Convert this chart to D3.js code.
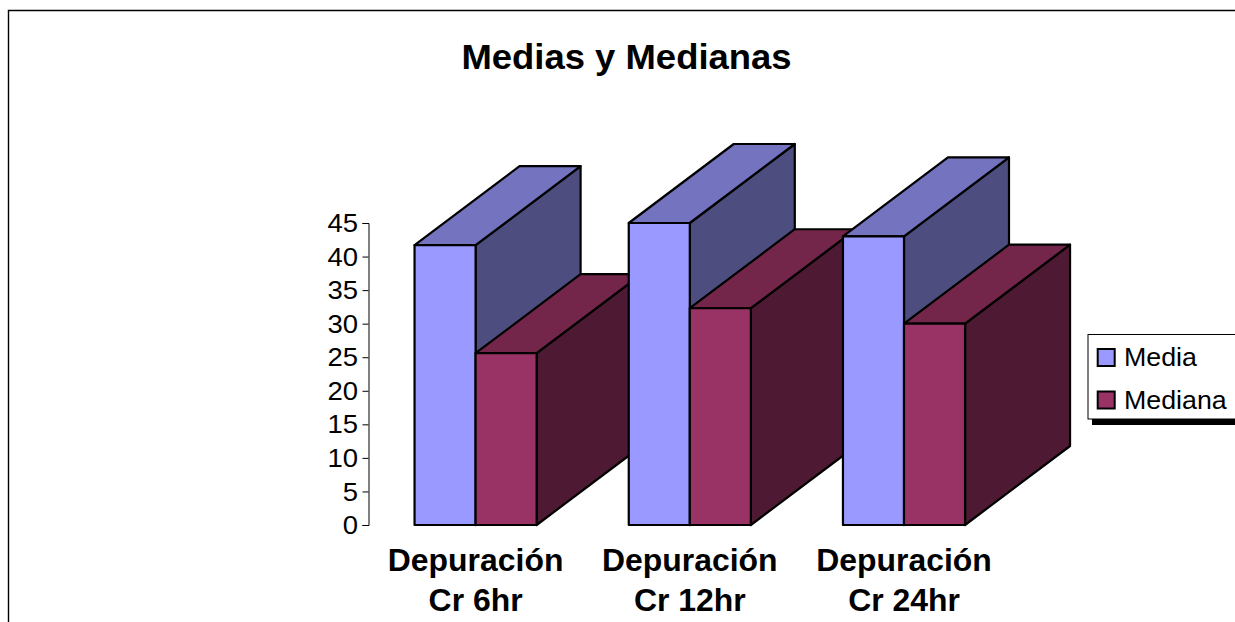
<!DOCTYPE html>
<html>
<head>
<meta charset="utf-8">
<script src="https://cdn.jsdelivr.net/npm/d3@7"></script>
<style>
  html, body { margin: 0; padding: 0; background: #fff; overflow: hidden; }
  svg { display: block; }
  text { font-family: "Liberation Sans", Arial, sans-serif; fill: #000; }
</style>
</head>
<body>
<svg id="chart" width="1235" height="622"></svg>
<script>
// Chart values
const categories = [["Depuración", "Cr 6hr"], ["Depuración", "Cr 12hr"], ["Depuración", "Cr 24hr"]];
const seriesNames = ["Media", "Mediana"];
const mediaValues = [41.7, 45, 43];
const medianaValues = [25.6, 32.3, 30];
const tickValues = [0, 5, 10, 15, 20, 25, 30, 35, 40, 45];
const seriesFront = ["#9999ff", "#993366"];
const seriesTop = ["#7373bf", "#732649"];
const seriesSide = ["#4d4d80", "#4d1933"];
const titleText = "Medias y Medianas";

const svg = d3.select("#chart");
const depthX = 105, depthY = 79;
const textWiden = 1.03;   // all lettering is set slightly wide
const widen = (px, py) => `translate(${px},${py}) scale(${textWiden},1)`;

const y = d3.scaleLinear().domain([0, 45]).range([525, 223]);
const x = d3.scaleBand()
  .domain(d3.range(categories.length))
  .range([368.5, 1011.1])
  .paddingInner(0.43)
  .paddingOuter(0.215);
const xSeries = d3.scaleBand().domain(d3.range(seriesNames.length)).range([0, x.bandwidth()]);

// Outer chart frame, open beyond the page edge
svg.append("path")
  .attr("d", "M8.5,640V10.5H1250")
  .attr("fill", "none")
  .attr("stroke", "#000")
  .attr("stroke-width", 1.4);

svg.append("text")
  .attr("transform", widen(626.5, 69))
  .attr("text-anchor", "middle")
  .attr("font-size", 35.4)
  .attr("font-weight", "bold")
  .text(titleText);

// Value axis
const axis = d3.axisLeft(y).tickValues(tickValues).tickSize(6).tickPadding(4);
const axisG = svg.append("g").attr("transform", "translate(368.5,0)").call(axis);
axisG.selectAll("path, line").attr("stroke", "#000").attr("stroke-width", 1);
axisG.selectAll("text")
  .attr("font-size", 26.7)
  .attr("font-family", '"Liberation Sans", Arial, sans-serif')
  .attr("x", 0)
  .attr("transform", widen(-10.5, 0));

// Extruded bars, painted left to right so nearer faces cover earlier ones
const values = [mediaValues, medianaValues];
const poly = pts => "M" + pts.map(p => p.join(",")).join("L") + "Z";
const barsG = svg.append("g")
  .attr("stroke", "#000").attr("stroke-width", 2.2).attr("stroke-linejoin", "round");

categories.forEach((_, c) => {
  seriesNames.forEach((_, s) => {
    const x0 = x(c) + xSeries(s);
    const x1 = x0 + xSeries.bandwidth();
    const yTop = y(values[s][c]);
    const yBase = y(0);
    barsG.append("path").attr("fill", seriesSide[s]).attr("d", poly([
      [x1, yTop], [x1 + depthX, yTop - depthY], [x1 + depthX, yBase - depthY], [x1, yBase]
    ]));
    barsG.append("path").attr("fill", seriesTop[s]).attr("d", poly([
      [x0, yTop], [x0 + depthX, yTop - depthY], [x1 + depthX, yTop - depthY], [x1, yTop]
    ]));
    barsG.append("path").attr("fill", seriesFront[s]).attr("d", poly([
      [x0, yTop], [x1, yTop], [x1, yBase], [x0, yBase]
    ]));
  });
});

// Two-line category labels
const labelG = svg.append("g").attr("text-anchor", "middle")
  .attr("font-size", 31).attr("font-weight", "bold");
categories.forEach((lines, c) => {
  lines.forEach((line, i) => {
    labelG.append("text")
      .attr("transform", widen(x(c) + x.bandwidth() / 2, 570.5 + i * 40.5))
      .text(line);
  });
});

// Legend box with its hard shadow
const legend = svg.append("g");
legend.append("rect").attr("x", 1092).attr("y", 419).attr("width", 160).attr("height", 6).attr("fill", "#000");
legend.append("rect").attr("x", 1088).attr("y", 334.5).attr("width", 170).attr("height", 84.5)
  .attr("fill", "#fff").attr("stroke", "#000").attr("stroke-width", 1);
seriesNames.forEach((name, i) => {
  const rowY = 349 + i * 42.5;
  legend.append("rect").attr("x", 1097.7).attr("y", rowY).attr("width", 17).attr("height", 17)
    .attr("fill", seriesFront[i]).attr("stroke", "#000").attr("stroke-width", 2);
  legend.append("text")
    .attr("transform", widen(1124, rowY + 17))
    .attr("font-size", 26)
    .text(name);
});
</script>
</body>
</html>
